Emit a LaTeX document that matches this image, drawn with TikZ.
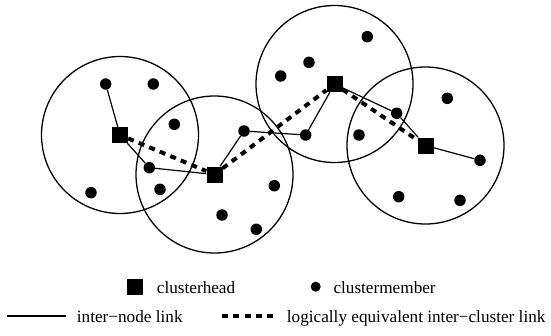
\documentclass[tikz,border=0pt]{standalone}
\usepackage{fontspec}
\setmainfont{Liberation Serif}
\usepackage{tikz}

\begin{document}
\begin{tikzpicture}[x=1pt, y=-1pt,
  every range/.style={circle, draw, line width=1.3pt, minimum size=157pt, inner sep=0pt},
  every head/.style={fill, inner sep=0pt, minimum size=16pt},
  every member/.style={circle, fill, inner sep=0pt, minimum size=11.5pt},
  every key/.style={anchor=base west, inner sep=0pt},
  inter node/.style={line width=1.2pt},
  inter cluster/.style={line width=4pt, dash pattern=on 6pt off 5.4pt},
  font=\fontsize{17.2}{20}\selectfont]
\useasboundingbox (0,0) rectangle (551,335);

\foreach \x/\y [count=\i] in {120/135, 214.5/174.5, 334.5/84, 425.5/145.5}
  \node [every range/.try] (range-\i) at (\x,\y) {};

\foreach \x/\y [count=\i] in {120/135, 214.5/174.5, 334.5/84, 425.5/145.5}
  \node [every head/.try] (head-\i) at (\x,\y) {};

\foreach \x/\y [count=\j] in {105.7/84, 153.3/84, 174.3/124.3, 91/192.7, 149.3/167.7, 160/189.3}
  \node [every member/.try] (member-1-\j) at (\x,\y) {};

\foreach \x/\y [count=\j] in {244/131, 274.3/185.7, 222/215, 256.3/229.3}
  \node [every member/.try] (member-2-\j) at (\x,\y) {};

\foreach \x/\y [count=\j] in {367.3/36.7, 309/62.3, 280.7/76, 305.7/135, 359/135, 396.7/113.3}
  \node [every member/.try] (member-3-\j) at (\x,\y) {};

\foreach \x/\y [count=\j] in {447.3/98.3, 480/160.3, 398.7/196.7, 460/200.3}
  \node [every member/.try] (member-4-\j) at (\x,\y) {};

\draw [inter node] (head-1) -- (member-1-1);
\draw [inter node] (head-1) -- (member-1-5) -- (head-2) -- (member-2-1)
    -- (member-3-4) -- (head-3) -- (member-3-6) -- (head-4) -- (member-4-2);

\draw [inter cluster] (head-1) -- (head-2) -- (head-3) -- (head-4);

%legend
\node [every head/.try] (key-head) at (134.7,287) {};
\node [every key] (key-head-text) at (156.7,293.3) {clusterhead};
\node [every member/.try, minimum size=10pt] (key-member) at (315.7,286.7) {};
\node [every key] (key-member-text) at (333.3,293.3) {clustermember};

\coordinate (key-node-a) at (7.3,316);
\coordinate (key-node-b) at (65.7,316);
\draw [inter node] (key-node-a) -- (key-node-b);
\node [every key] (key-node-text) at (76.7,322.5) {inter−node link};

\coordinate (key-cluster-a) at (221.7,316);
\coordinate (key-cluster-b) at (273.3,316);
\draw [inter cluster] (key-cluster-a) -- (key-cluster-b);
\node [every key] (key-cluster-text) at (286.7,322.5) {logically equivalent inter−cluster link};
\end{tikzpicture}
\end{document}
